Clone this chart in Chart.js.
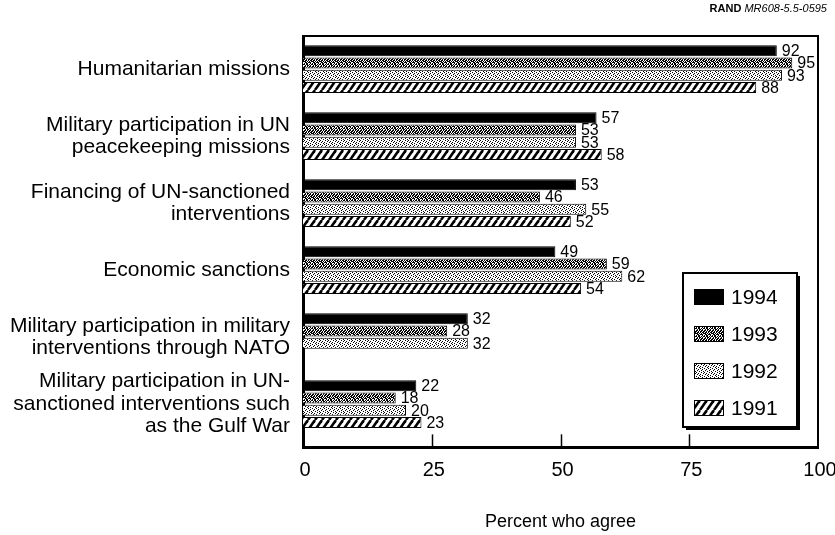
<!DOCTYPE html>
<html><head><meta charset="utf-8">
<script src="https://cdn.jsdelivr.net/npm/chart.js@4/dist/chart.umd.min.js"></script>
<style>
html,body{margin:0;padding:0;background:#fff;}
#wrap{position:relative;width:835px;height:535px;}
#note{position:absolute;right:8px;top:2px;font:11px 'Liberation Sans',Arial,sans-serif;color:#000;}
</style></head><body>
<div id="wrap"><canvas id="c" width="835" height="535"></canvas>
<div id="note"><b>RAND</b> <i>MR608-5.5-0595</i></div></div>
<script>
const categories = [
  ['Humanitarian missions'],
  ['Military participation in UN', 'peacekeeping missions'],
  ['Financing of UN-sanctioned', 'interventions'],
  ['Economic sanctions'],
  ['Military participation in military', 'interventions through NATO'],
  ['Military participation in UN-', 'sanctioned interventions such', 'as the Gulf War']
];
const years = ['1994', '1993', '1992', '1991'];
const values1994 = [92, 57, 53, 49, 32, 22];
const values1993 = [95, 53, 46, 59, 28, 18];
const values1992 = [93, 53, 55, 62, 32, 20];
const values1991 = [88, 58, 52, 54, null, 23];
const xTicks = [0, 25, 50, 75, 100];
const xTitle = 'Percent who agree';

const FONT = "'Liberation Sans', Arial, Helvetica, sans-serif";

function bitmapPattern(rows) {
  const h = rows.length, w = rows[0].length;
  const c = document.createElement('canvas'); c.width = w; c.height = h;
  const x = c.getContext('2d');
  x.fillStyle = '#fff'; x.fillRect(0, 0, w, h);
  x.fillStyle = '#000';
  for (let j = 0; j < h; j++) for (let i = 0; i < w; i++) if (rows[j][i] === '1') x.fillRect(i, j, 1, 1);
  return x.createPattern(c, 'repeat');
}
function hatchPattern() {
  const w = 7, h = 10;
  const c = document.createElement('canvas'); c.width = w; c.height = h;
  const x = c.getContext('2d');
  x.fillStyle = '#fff'; x.fillRect(0, 0, w, h);
  x.strokeStyle = '#000'; x.lineWidth = 2.6;
  for (const o of [-w, 0, w]) { x.beginPath(); x.moveTo(o, h); x.lineTo(o + w, 0); x.stroke(); }
  return x.createPattern(c, 'repeat');
}
const darkStipple = bitmapPattern([
  '10110101','01011010','11010110','10101101',
  '01101011','11010101','01101110','10110010'
]);
const lightStipple = bitmapPattern([
  '10001000','00100010','01000100','00010001',
  '10000100','00100001','01001000','00010010'
]);
const fills = ['#000', darkStipple, lightStipple, hatchPattern()];
const seriesValues = [values1994, values1993, values1992, values1991];

const frame = {
  id: 'frame',
  afterDraw(chart) {
    const ctx = chart.ctx, a = chart.chartArea, xs = chart.scales.x;
    ctx.save();
    ctx.strokeStyle = '#000';
    ctx.lineWidth = 2;
    ctx.beginPath();
    ctx.moveTo(a.left, a.top); ctx.lineTo(a.right, a.top); ctx.lineTo(a.right, a.bottom);
    ctx.stroke();
    ctx.lineWidth = 1.5;
    for (const t of xTicks.slice(1, -1)) {
      const px = Math.round(xs.getPixelForValue(t)) + 0.5;
      ctx.beginPath(); ctx.moveTo(px, a.bottom); ctx.lineTo(px, a.bottom - 13); ctx.stroke();
    }
    ctx.restore();
  }
};
const valueLabels = {
  id: 'valueLabels',
  afterDatasetsDraw(chart) {
    const ctx = chart.ctx;
    ctx.save();
    ctx.fillStyle = '#000';
    ctx.font = '16px ' + FONT;
    ctx.textBaseline = 'middle';
    ctx.textAlign = 'left';
    chart.data.datasets.forEach((ds, di) => {
      chart.getDatasetMeta(di).data.forEach((el, i) => {
        const v = ds.data[i];
        if (v === null || v === undefined) return;
        ctx.fillText(String(v), el.x + 5, el.y + 1);
      });
    });
    ctx.restore();
  }
};
const boxLegend = {
  id: 'boxLegend',
  afterDraw(chart) {
    const ctx = chart.ctx, a = chart.chartArea;
    const bw = 114, bh = 154;
    const bx = a.right - 21 - bw, by = 273;
    ctx.save();
    ctx.fillStyle = '#000';
    ctx.fillRect(bx + 3, by + 3, bw, bh);
    ctx.fillStyle = '#fff';
    ctx.fillRect(bx, by, bw, bh);
    ctx.strokeStyle = '#000'; ctx.lineWidth = 2;
    ctx.strokeRect(bx, by, bw, bh);
    ctx.font = '21px ' + FONT;
    ctx.textBaseline = 'middle';
    chart.data.datasets.forEach((ds, i) => {
      const y = by + 24 + i * 37;
      ctx.fillStyle = ds.backgroundColor;
      ctx.fillRect(bx + 11, y - 8, 30, 16);
      ctx.lineWidth = 1; ctx.strokeStyle = '#000';
      ctx.strokeRect(bx + 11.5, y - 7.5, 29, 15);
      ctx.fillStyle = '#000';
      ctx.fillText(ds.label, bx + 48, y + 1);
    });
    ctx.restore();
  }
};

new Chart(document.getElementById('c'), {
  type: 'bar',
  data: {
    labels: categories,
    datasets: years.map((y, i) => ({
      label: y,
      data: seriesValues[i],
      backgroundColor: fills[i],
      borderColor: '#000',
      borderWidth: 1,
      categoryPercentage: 0.73,
      barPercentage: 0.9
    }))
  },
  options: {
    indexAxis: 'y',
    responsive: false,
    animation: false,
    devicePixelRatio: 1,
    layout: { padding: { top: 36, right: 0, left: 0, bottom: 0 } },
    plugins: { legend: { display: false }, tooltip: { enabled: false } },
    scales: {
      y: {
        type: 'category',
        grid: { display: false, drawTicks: false },
        border: { display: true, width: 3, color: '#000' },
        ticks: { color: '#000', padding: 13, autoSkip: false,
                 font: { family: FONT, size: 21, lineHeight: 1.07 } },
        afterBuildTicks(s) { s._startValue = -0.494; s._valueRange = 6.14; },
        afterFit(s) { s.width = 303; s.paddingTop = 0; s.paddingBottom = 0; }
      },
      x: {
        min: 0, max: 100,
        grid: { display: false, drawTicks: false },
        border: { display: true, width: 3, color: '#000' },
        afterBuildTicks(s) { s.ticks = xTicks.map(v => ({ value: v })); },
        ticks: { color: '#000', padding: 11, labelOffset: 2, maxRotation: 0, autoSkip: false,
                 font: { family: FONT, size: 20, lineHeight: 1.2 } },
        title: { display: true, text: xTitle, color: '#000', padding: { top: 18, bottom: 2 },
                 font: { family: FONT, size: 18, lineHeight: 1.2 } },
        afterFit(s) { s.paddingRight = 17; s.paddingLeft = 0; }
      }
    }
  },
  plugins: [frame, valueLabels, boxLegend]
});
</script>
</body></html>
